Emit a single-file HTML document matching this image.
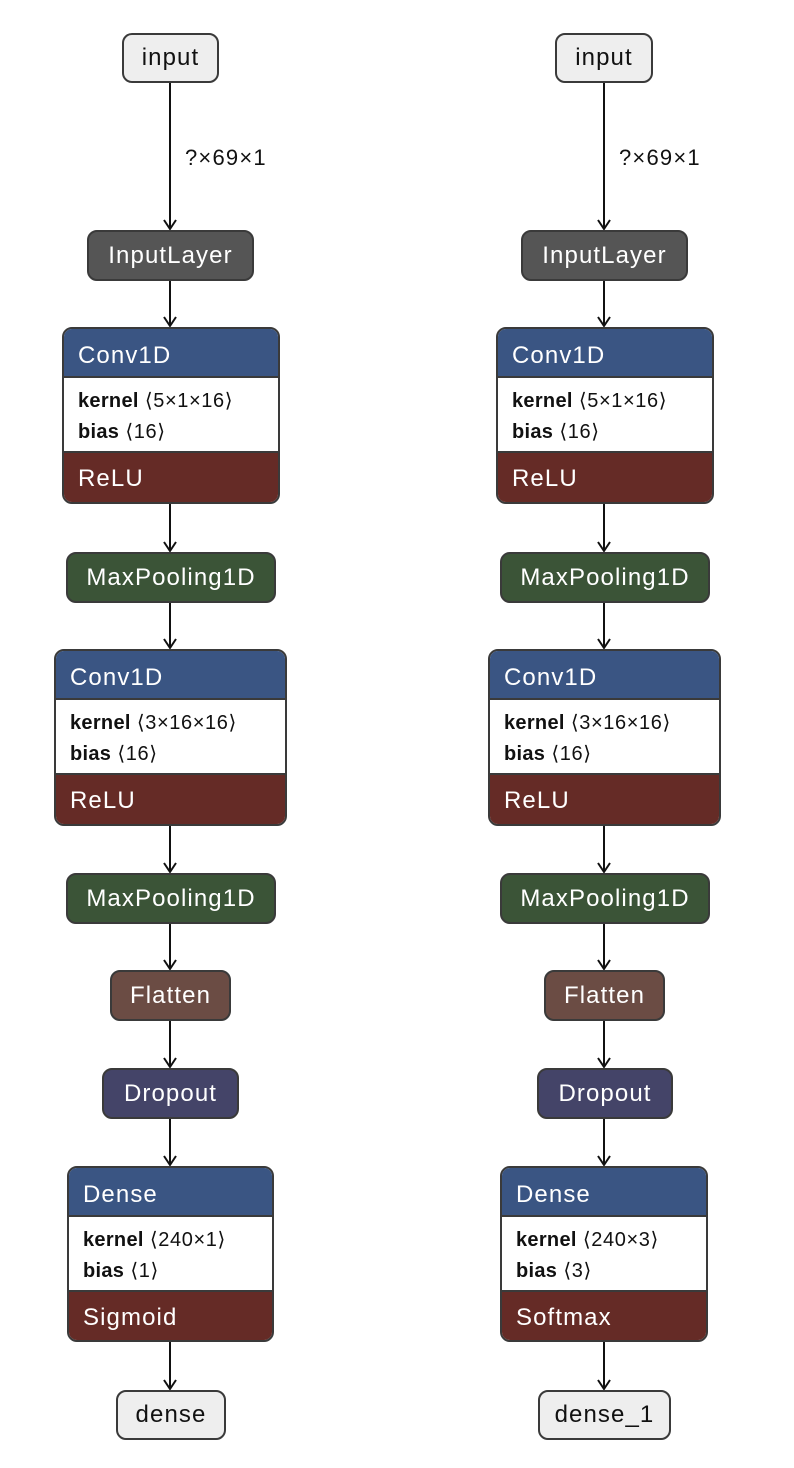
<!DOCTYPE html>
<html><head><meta charset="utf-8"><style>
html,body{margin:0;padding:0;background:#fff;}
body{width:794px;height:1468px;position:relative;overflow:hidden;font-family:"Liberation Sans",sans-serif;}
.n{position:absolute;box-sizing:border-box;border:2px solid #3a3a3a;border-radius:10px;color:#fff;font-size:24px;letter-spacing:1.1px;text-align:center;display:flex;align-items:center;justify-content:center;}
.io{background:#eeeeee;color:#111;}
.il{background:#555555;}
.mp{background:#3b5437;}
.fl{background:#6b4c44;}
.dr{background:#444468;}
.b{position:absolute;box-sizing:border-box;border:2px solid #3a3a3a;border-radius:10px;overflow:hidden;font-size:24px;letter-spacing:1.1px;}
.b .h{background:#3a5583;color:#fff;height:49px;line-height:53px;padding-left:14px;border-bottom:2px solid #3a3a3a;box-sizing:border-box;}
.b .w{background:#fff;color:#111;height:75px;box-sizing:border-box;padding:8px 0 0 14px;font-size:20px;letter-spacing:0.6px;line-height:31px;border-bottom:2px solid #3a3a3a;}
.b .w b{font-weight:bold;letter-spacing:0.3px;}
.b .f{background:#652b26;color:#fff;height:50px;line-height:52px;padding-left:14px;}
.lbl{position:absolute;font-size:22px;letter-spacing:1.2px;color:#111;}
</style></head><body>
<svg width="794" height="1468" style="position:absolute;left:0;top:0">
<g id="L" stroke="#111" stroke-width="2" fill="none">
<path d="M170 82V229M164 220L170 229L176 220"/>
<path d="M170 280V326M164 317L170 326L176 317"/>
<path d="M170 503V551M164 542L170 551L176 542"/>
<path d="M170 602V648M164 639L170 648L176 639"/>
<path d="M170 825V872M164 863L170 872L176 863"/>
<path d="M170 923V969M164 960L170 969L176 960"/>
<path d="M170 1020V1067M164 1058L170 1067L176 1058"/>
<path d="M170 1118V1165M164 1156L170 1165L176 1156"/>
<path d="M170 1341V1389M164 1380L170 1389L176 1380"/>
</g>
<use href="#L" x="434" y="0"/>
</svg>

<div class="lbl" style="left:185px;top:145px">?×69×1</div>
<div class="lbl" style="left:619px;top:145px">?×69×1</div>

<div class="n io" style="left:122px;top:33px;width:97px;height:50px">input</div>
<div class="n il" style="left:87px;top:230px;width:167px;height:51px">InputLayer</div>
<div class="b" style="left:62px;top:327px;width:218px;height:177px"><div class="h">Conv1D</div><div class="w"><b>kernel</b> ⟨5×1×16⟩<br><b>bias</b> ⟨16⟩</div><div class="f">ReLU</div></div>
<div class="n mp" style="left:66px;top:552px;width:210px;height:51px">MaxPooling1D</div>
<div class="b" style="left:54px;top:649px;width:233px;height:177px"><div class="h">Conv1D</div><div class="w"><b>kernel</b> ⟨3×16×16⟩<br><b>bias</b> ⟨16⟩</div><div class="f">ReLU</div></div>
<div class="n mp" style="left:66px;top:873px;width:210px;height:51px">MaxPooling1D</div>
<div class="n fl" style="left:110px;top:970px;width:121px;height:51px">Flatten</div>
<div class="n dr" style="left:102px;top:1068px;width:137px;height:51px">Dropout</div>
<div class="b" style="left:67px;top:1166px;width:207px;height:176px"><div class="h">Dense</div><div class="w"><b>kernel</b> ⟨240×1⟩<br><b>bias</b> ⟨1⟩</div><div class="f">Sigmoid</div></div>
<div class="n io" style="left:116px;top:1390px;width:110px;height:50px">dense</div>

<div class="n io" style="left:555px;top:33px;width:98px;height:50px">input</div>
<div class="n il" style="left:521px;top:230px;width:167px;height:51px">InputLayer</div>
<div class="b" style="left:496px;top:327px;width:218px;height:177px"><div class="h">Conv1D</div><div class="w"><b>kernel</b> ⟨5×1×16⟩<br><b>bias</b> ⟨16⟩</div><div class="f">ReLU</div></div>
<div class="n mp" style="left:500px;top:552px;width:210px;height:51px">MaxPooling1D</div>
<div class="b" style="left:488px;top:649px;width:233px;height:177px"><div class="h">Conv1D</div><div class="w"><b>kernel</b> ⟨3×16×16⟩<br><b>bias</b> ⟨16⟩</div><div class="f">ReLU</div></div>
<div class="n mp" style="left:500px;top:873px;width:210px;height:51px">MaxPooling1D</div>
<div class="n fl" style="left:544px;top:970px;width:121px;height:51px">Flatten</div>
<div class="n dr" style="left:537px;top:1068px;width:136px;height:51px">Dropout</div>
<div class="b" style="left:500px;top:1166px;width:208px;height:176px"><div class="h">Dense</div><div class="w"><b>kernel</b> ⟨240×3⟩<br><b>bias</b> ⟨3⟩</div><div class="f">Softmax</div></div>
<div class="n io" style="left:538px;top:1390px;width:133px;height:50px">dense_1</div>
</body></html>
